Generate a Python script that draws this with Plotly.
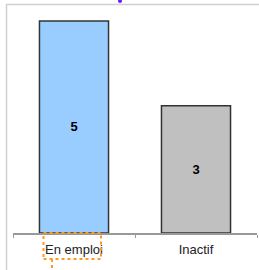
import plotly.graph_objects as go

categories = ["En emploi", "Inactif"]
values = [5, 3]
colors = ["#99ccff", "#c0c0c0"]

fig = go.Figure(go.Bar(
    x=categories, y=values, text=[str(v) for v in values],
    textposition="inside", insidetextanchor="middle",
    textfont=dict(family="Liberation Sans, Arial", size=13, color="#000000", weight="bold"),
    marker=dict(color=colors, line=dict(color="#333333", width=1.5)),
    width=0.566, hoverinfo="skip",
))

L, R, T, B = 13, 2, 4, 37
fig.update_layout(
    width=259, height=270, margin=dict(l=L, r=R, t=T, b=B, autoexpand=False),
    paper_bgcolor="white", plot_bgcolor="white", showlegend=False,
    font=dict(family="Liberation Sans, Arial", size=13, color="#222222"),
    xaxis=dict(showline=True, linecolor="#999999", linewidth=1.5, ticks="outside",
               tickson="boundaries", ticklen=3, tickcolor="#999999", showgrid=False,
               tickfont=dict(size=13), ticklabelstandoff=4),
    yaxis=dict(range=[0, 5.4], visible=False, showgrid=False),
)

pw, ph = 259 - L - R, 270 - T - B
def px(x): return (x - L) / pw
def py(y): return (270 - B - y) / ph

shapes = [
    dict(type="rect", xref="paper", yref="paper", x0=px(6.5), x1=px(265), y0=py(280), y1=py(4.5),
         line=dict(color="#d0d0d0", width=1.5), layer="below"),
    dict(type="rect", xref="paper", yref="paper", x0=px(43.5), x1=px(101), y0=py(259), y1=py(233),
         line=dict(color="#ff9922", width=2, dash="dot")),
    dict(type="line", xref="paper", yref="paper", x0=px(52), x1=px(52), y0=py(259), y1=py(272),
         line=dict(color="#ff9922", width=2, dash="dot")),
    dict(type="circle", xref="paper", yref="paper", x0=px(118), x1=px(122), y0=py(3), y1=py(-1),
         fillcolor="#6a1bff", line=dict(width=0)),
]
fig.update_layout(shapes=shapes)
fig.write_html("out.html", config={"displayModeBar": False, "staticPlot": True},
               post_script="document.body.style.margin='0';document.body.style.overflow='hidden';")
